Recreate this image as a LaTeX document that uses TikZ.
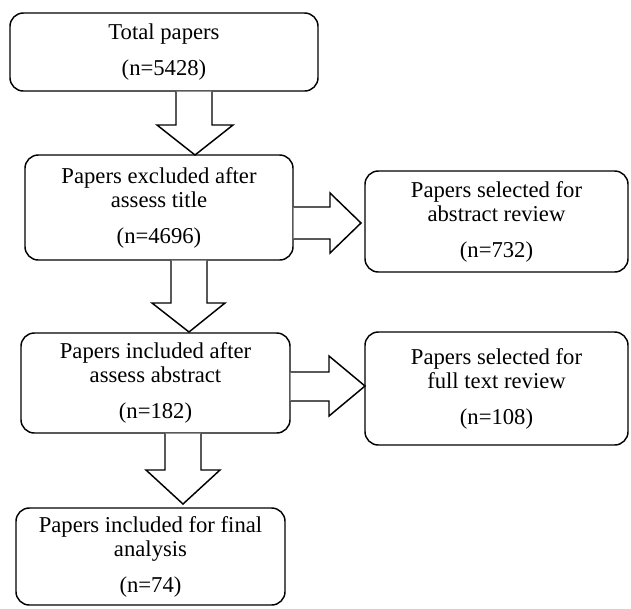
\documentclass[tikz,border=0pt]{standalone}
\usepackage{fontspec}
\setmainfont{Liberation Serif}
\begin{document}
\begin{tikzpicture}[x=0.75pt,y=-0.75pt,
  box/.style={draw, line width=1.1pt, rounded corners=10pt, align=center, inner sep=0pt,
    font=\fontsize{17}{18}\selectfont},
  blk/.style={draw, line width=1.1pt, fill=white, line join=miter}]
\useasboundingbox (0,0) rectangle (631,608);
\node[box, minimum width=231pt, minimum height=58.5pt] (b1) at (164,52) {Total papers\\[9pt](n=5428)};
\node[box, minimum width=201pt, minimum height=78.75pt] (b2) at (159,207.5) {Papers excluded after\\assess title\\[9pt](n=4696)};
\node[box, minimum width=197.25pt, minimum height=75.75pt] (b3) at (496.5,221.5) {Papers selected for\\abstract review\\[9pt](n=732)};
\node[box, minimum width=201.75pt, minimum height=75pt] (b4) at (155.5,383) {Papers included after\\assess abstract\\[9pt](n=182)};
\node[box, minimum width=197.25pt, minimum height=84.75pt] (b6) at (496.5,388.5) {Papers selected for\\full text review\\[9pt](n=108)};
\node[box, minimum width=201.75pt, minimum height=72.75pt] (b5) at (150.5,556.5) {Papers included for final\\analysis\\[9pt](n=74)};
% down arrows
\draw[blk] (b1.south -| 176,0) -- (176,125) -- (157,125) -- (195,155) -- (233,125) -- (212,125) -- (b1.south -| 212,0);
\draw[blk] (b2.south -| 171,0) -- (171,303) -- (152,303) -- (189,332) -- (225,303) -- (207,303) -- (b2.south -| 207,0);
\draw[blk] (b4.south -| 165,0) -- (165,470) -- (146,470) -- (183,504) -- (220,470) -- (201,470) -- (b4.south -| 201,0);
% right arrows
\draw[blk] (b2.east |- 0,207) -- (330,207) -- (330,193) -- (361,223) -- (330,253) -- (330,239) -- (b2.east |- 0,239);
\draw[blk] (b4.east |- 0,372) -- (329,372) -- (329,356) -- (365,386) -- (329,416) -- (329,401) -- (b4.east |- 0,401);
\end{tikzpicture}
\end{document}
